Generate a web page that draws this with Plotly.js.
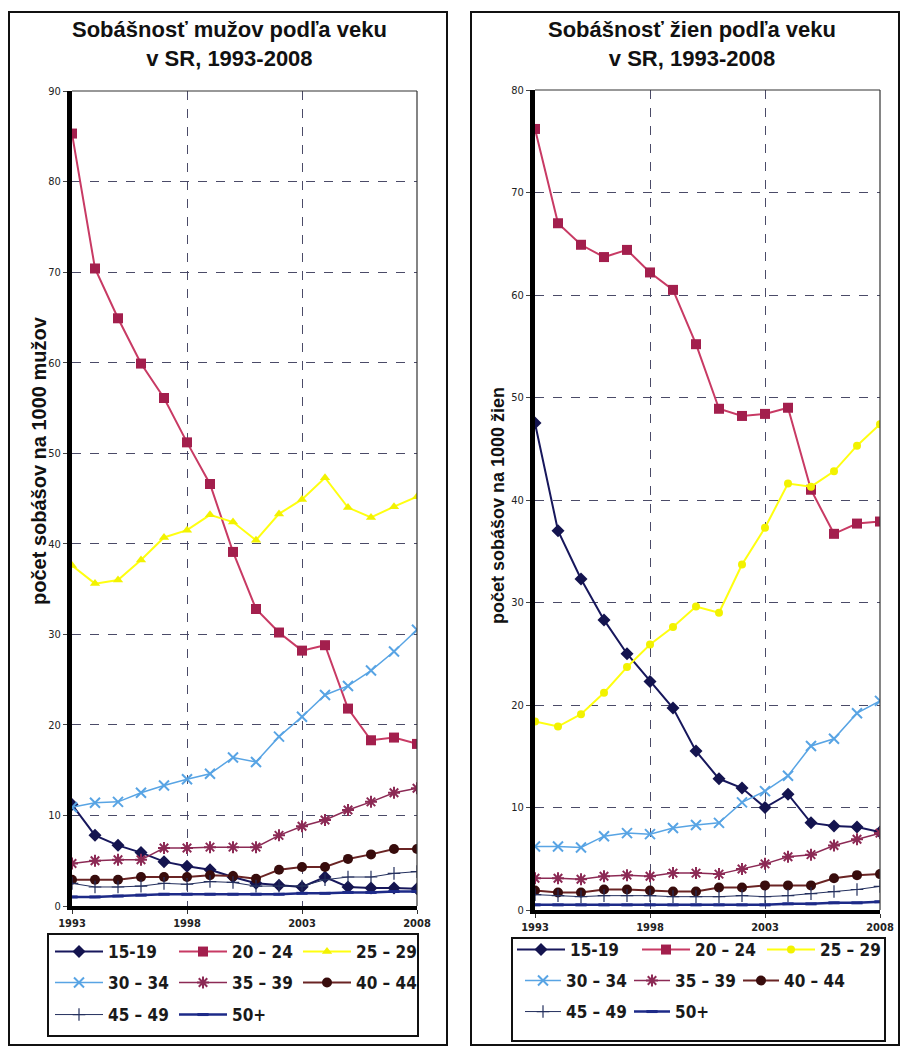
<!DOCTYPE html>
<html>
<head>
<meta charset="utf-8">
<script src="https://cdn.plot.ly/plotly-3.0.1.min.js"></script>
<style>html,body{margin:0;padding:0;background:#fff;}#chart{width:902px;height:1047px;}</style>
</head>
<body>
<div id="chart"></div>
<script>
// ---------- DATA ----------
const years = [1993,1994,1995,1996,1997,1998,1999,2000,2001,2002,2003,2004,2005,2006,2007,2008];
const xTicks = [1993,1998,2003,2008];
const groups = ['15-19','20 – 24','25 – 29','30 – 34','35 – 39','40 – 44','45 – 49','50+'];

const men15 = [11.2,7.8,6.7,5.9,4.9,4.4,4.0,3.2,2.5,2.3,2.1,3.2,2.1,2.0,2.0,1.9];
const men20 = [85.3,70.4,64.9,59.9,56.1,51.2,46.6,39.1,32.8,30.2,28.2,28.8,21.8,18.3,18.6,17.9];
const men25 = [37.6,35.6,36.0,38.2,40.7,41.5,43.2,42.4,40.4,43.3,44.9,47.3,44.0,42.9,44.1,45.2];
const men30 = [10.9,11.4,11.5,12.5,13.3,14.0,14.6,16.4,15.9,18.7,20.9,23.3,24.3,26.0,28.1,30.5];
const men35 = [4.7,5.0,5.1,5.1,6.4,6.4,6.5,6.5,6.5,7.8,8.8,9.5,10.6,11.5,12.5,13.0];
const men40 = [2.9,2.9,2.9,3.2,3.2,3.2,3.4,3.3,3.0,4.0,4.3,4.3,5.2,5.7,6.3,6.3];
const men45 = [2.5,2.1,2.1,2.2,2.5,2.4,2.7,2.6,2.2,2.2,2.2,2.9,3.2,3.2,3.6,3.8];
const men50 = [1.0,1.0,1.1,1.2,1.3,1.3,1.3,1.3,1.3,1.3,1.4,1.4,1.5,1.5,1.6,1.6];

const women15 = [47.5,37.0,32.3,28.3,25.0,22.3,19.7,15.5,12.8,11.9,10.0,11.3,8.5,8.2,8.1,7.6];
const women20 = [76.2,67.0,64.9,63.7,64.4,62.2,60.5,55.2,48.9,48.2,48.4,49.0,41.0,36.7,37.7,37.9];
const women25 = [18.4,17.9,19.1,21.2,23.7,25.9,27.6,29.6,29.0,33.7,37.3,41.6,41.3,42.8,45.3,47.4];
const women30 = [6.2,6.2,6.1,7.2,7.5,7.4,8.0,8.3,8.5,10.5,11.6,13.1,16.0,16.7,19.2,20.4];
const women35 = [3.1,3.1,3.0,3.3,3.4,3.3,3.6,3.6,3.5,4.0,4.5,5.2,5.4,6.3,6.9,7.5];
const women40 = [1.9,1.7,1.7,2.0,2.0,1.9,1.8,1.8,2.2,2.2,2.4,2.4,2.4,3.1,3.4,3.5];
const women45 = [1.5,1.4,1.3,1.4,1.4,1.4,1.3,1.3,1.3,1.4,1.3,1.4,1.6,1.8,2.0,2.3];
const women50 = [0.5,0.5,0.5,0.5,0.5,0.5,0.5,0.5,0.5,0.5,0.5,0.6,0.6,0.7,0.7,0.8];

const menSeries = [men15,men20,men25,men30,men35,men40,men45,men50];
const womenSeries = [women15,women20,women25,women30,women35,women40,women45,women50];

const titleMen = 'Sobášnosť mužov podľa veku<br>v SR, 1993-2008';
const titleWomen = 'Sobášnosť žien podľa veku<br>v SR, 1993-2008';
const yTitleMen = 'počet sobášov na 1000 mužov';
const yTitleWomen = 'počet sobášov na 1000 žien';

// ---------- STYLE ----------
const W = 902, H = 1047;
const FONT = 'Liberation Sans, Arial, sans-serif';
const NARROW = 'Liberation Sans Narrow, DejaVu Sans Condensed, Arial Narrow, Liberation Sans, sans-serif';
const px = v => v / W;
const py = v => 1 - v / H;

const styles = [
  {line:{color:'#17175c',width:2}, marker:{symbol:'diamond',size:10,color:'#14144f'}},
  {line:{color:'#c83a64',width:2}, marker:{symbol:'square',size:10,color:'#a31f4d'}},
  {line:{color:'#ffff10',width:2}, marker:{symbol:'triangle-up',size:9,color:'#f2f200'}},
  {line:{color:'#58a4e4',width:1.5}, marker:{symbol:'x-thin-open',size:10,line:{width:2,color:'#4a98da'}}},
  {line:{color:'#8c2a55',width:1.5}, marker:{symbol:'asterisk-open',size:10,line:{width:2,color:'#7a1f47'}}},
  {line:{color:'#6a2424',width:2}, marker:{symbol:'circle',size:10,color:'#380c0c'}},
  {line:{color:'#24305e',width:1}, marker:{symbol:'cross-thin-open',size:9,line:{width:1.2,color:'#24305e'}}},
  {line:{color:'#1d2a88',width:2.5}, marker:{symbol:'line-ew-open',size:8,line:{width:3,color:'#1d2a88'}}}
];
const womenMarker = {2:{symbol:'circle',size:8,color:'#f2f200'}};

const rowOf = [0,0,0,1,1,1,2,2];

const traces = [];
menSeries.forEach((ys,i) => {
  traces.push({x:years, y:ys, name:groups[i], type:'scatter', mode:'lines+markers',
    xaxis:'x', yaxis:'y', line:styles[i].line, marker:styles[i].marker,
    legend: ['legend','legend2','legend3'][rowOf[i]]});
});
womenSeries.forEach((ys,i) => {
  traces.push({x:years, y:ys, name:groups[i], type:'scatter', mode:'lines+markers',
    xaxis:'x2', yaxis:'y2', line:styles[i].line, marker:womenMarker[i] || styles[i].marker,
    legend: ['legend4','legend5','legend6'][rowOf[i]]});
});

function xax(domain, anchor){
  return {domain, anchor, range:[1993,2008], tickvals:xTicks, ticktext:xTicks.map(String),
    showgrid:true, gridcolor:'#4b4b68', griddash:'dash', gridwidth:1,
    showline:true, linecolor:'#000', linewidth:4, ticks:'outside', ticklen:4, tickcolor:'#333',
    tickfont:{family:NARROW,size:11,color:'#222',weight:'bold'}, zeroline:false, fixedrange:true, automargin:false};
}
function yax(domain, anchor, max){
  return {domain, anchor, range:[0,max], dtick:10, tick0:0,
    showgrid:true, gridcolor:'#4b4b68', griddash:'dash', gridwidth:1,
    showline:true, linecolor:'#000', linewidth:5, ticks:'outside', ticklen:4, tickcolor:'#444',
    tickfont:{family:NARROW,size:11,color:'#222'}, zeroline:false, fixedrange:true, automargin:false};
}

function leg(xPix, yPix, spacing, itemw){
  return {orientation:'h', x:px(xPix), y:py(yPix), xanchor:'left', yanchor:'middle',
    bgcolor:'rgba(0,0,0,0)', borderwidth:0, itemwidth:itemw, entrywidth:spacing - (itemw + 10), entrywidthmode:'pixels',
    font:{family:NARROW,size:17,color:'#1a1a1a',weight:'bold'}, itemclick:false, itemdoubleclick:false};
}

const lineClr = '#333';
const shapes = [
  {type:'rect', xref:'paper', yref:'paper', x0:px(9), x1:px(447), y0:py(1045), y1:py(12), line:{color:'#111',width:2}},
  {type:'rect', xref:'paper', yref:'paper', x0:px(471), x1:px(899), y0:py(1045), y1:py(12), line:{color:'#111',width:2}},
  {type:'rect', xref:'paper', yref:'paper', x0:px(48), x1:px(418), y0:py(1036), y1:py(934), line:{color:'#111',width:2}},
  {type:'rect', xref:'paper', yref:'paper', x0:px(512), x1:px(885), y0:py(1041), y1:py(938), line:{color:'#111',width:2}},
  {type:'line', xref:'x domain', yref:'y domain', x0:0, x1:1, y0:1, y1:1, line:{color:lineClr,width:1.2}},
  {type:'line', xref:'x domain', yref:'y domain', x0:1, x1:1, y0:0, y1:1, line:{color:lineClr,width:1.2}},
  {type:'line', xref:'x2 domain', yref:'y2 domain', x0:0, x1:1, y0:1, y1:1, line:{color:lineClr,width:1.2}},
  {type:'line', xref:'x2 domain', yref:'y2 domain', x0:1, x1:1, y0:0, y1:1, line:{color:lineClr,width:1.2}}
];

const annotations = [
  {text:'<b>'+titleMen+'</b>', xref:'paper', yref:'paper', x:px(229), y:py(44), xanchor:'center', yanchor:'middle',
   showarrow:false, font:{family:FONT,size:22,color:'#111'}},
  {text:'<b>'+titleWomen+'</b>', xref:'paper', yref:'paper', x:px(692), y:py(44), xanchor:'center', yanchor:'middle',
   showarrow:false, font:{family:FONT,size:22,color:'#111'}},
  {text:'<b>'+yTitleMen+'</b>', xref:'paper', yref:'paper', x:px(39), y:py(461), xanchor:'center', yanchor:'middle',
   textangle:-90, showarrow:false, font:{family:FONT,size:20,color:'#111'}},
  {text:'<b>'+yTitleWomen+'</b>', xref:'paper', yref:'paper', x:px(498), y:py(506), xanchor:'center', yanchor:'middle',
   textangle:-90, showarrow:false, font:{family:FONT,size:18,color:'#111'}}
];

const layout = {
  width:W, height:H, margin:{l:0,r:0,t:0,b:0,autoexpand:false}, paper_bgcolor:'#fff', plot_bgcolor:'#fff',
  showlegend:true,
  xaxis: xax([px(72),px(417)], 'y'),
  yaxis: yax([py(906),py(91)], 'x', 90),
  xaxis2: xax([px(535),px(880)], 'y2'),
  yaxis2: yax([py(910),py(90)], 'x2', 80),
  legend: leg(50, 952, 119, 48),
  legend2: leg(50, 983, 119, 48),
  legend3: leg(50, 1015, 119, 48),
  legend4: leg(512, 950, 120, 48),
  legend5: leg(520, 981, 104, 36),
  legend6: leg(520, 1012, 104, 36),
  shapes, annotations
};

Plotly.newPlot('chart', traces, layout, {displayModeBar:false, staticPlot:true});
</script>
</body>
</html>
